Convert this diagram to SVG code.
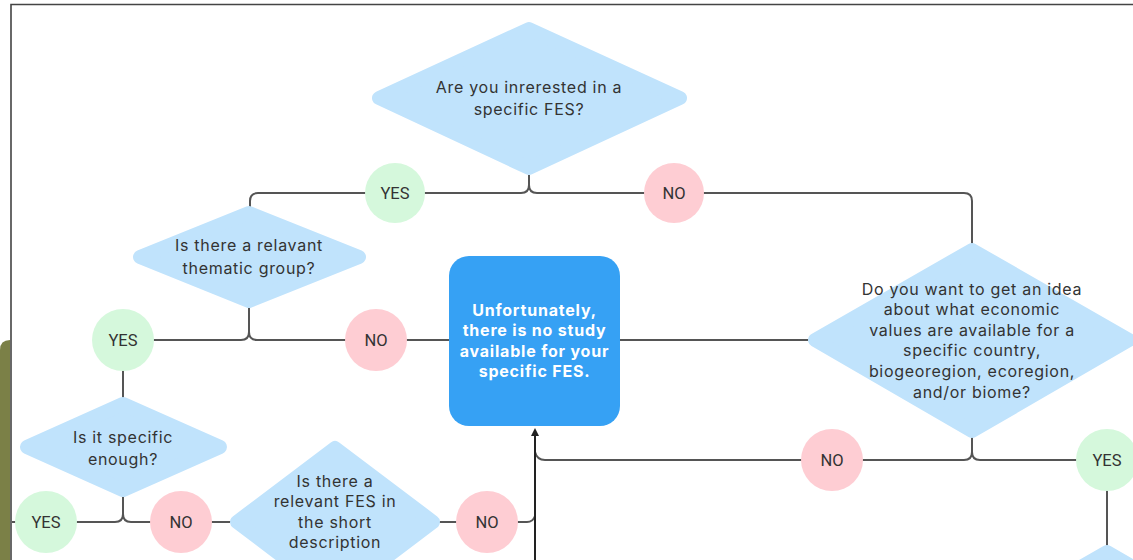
<svg xmlns="http://www.w3.org/2000/svg" width="1133" height="560" viewBox="0 0 1133 560">
<style>
.frame{fill:none;stroke:#444;stroke-width:1.6}
.conn{fill:none;stroke:#555;stroke-width:2;stroke-linejoin:round}
.dark{fill:none;stroke:#222;stroke-width:2}
.dia{fill:#c0e3fc;stroke:#c0e3fc;stroke-width:14;stroke-linejoin:round}
.dtxt{font-family:Inter,"DejaVu Sans",sans-serif;font-size:16px;letter-spacing:0.7px;fill:#333;text-anchor:middle}
.yes{fill:#d5f8dc}
.no{fill:#fecdd3}
.ctxt{font-family:Roboto,"Liberation Sans",sans-serif;font-size:16.5px;fill:#333;text-anchor:middle}
.box{fill:#36a1f4}
.btxt{font-family:Inter,"DejaVu Sans",sans-serif;font-size:16px;letter-spacing:0.8px;font-weight:bold;fill:#fff;text-anchor:middle}
</style>
<defs>
<marker id="arr" viewBox="0 0 10 10" refX="5" refY="5" markerWidth="4" markerHeight="4" orient="auto-start-reverse">
<path d="M0,0 L10,5 L0,10 z" fill="#222"/>
</marker>
</defs>
<rect width="1133" height="560" fill="#fff"/>
<path d="M0,350 Q0,340 10,340 L10,560 L0,560 Z" fill="#7b8047"/>
<path class="frame" d="M11,560 L11,4.5 L1133,4.5"/>

<g id="connectors">
<path class="conn" d="M529,175 L529,185 Q529,193 521,193 L258,193 Q250,193 250,201 L250,210"/>
<path class="conn" d="M529,185 Q529,193 537,193 L964,193 Q972,193 972,201 L972,246"/>
<path class="conn" d="M249,305 L249,332 Q249,340 241,340 L123,340"/>
<path class="conn" d="M249,332 Q249,340 257,340 L449,340"/>
<path class="conn" d="M620,340 L812,340"/>
<path class="conn" d="M972,436 L972,452 Q972,460 964,460 L545,460 Q537,460 535,452"/>
<path class="conn" d="M972,452 Q972,460 980,460 L1107,460 L1107,548"/>
<path class="conn" d="M123,340 L123,402"/>
<path class="conn" d="M123,495 L123,514 Q123,522 115,522 L12,522"/>
<path class="conn" d="M123,514 Q123,522 131,522 L234,522"/>
<path class="conn" d="M436,522 L527,522 Q533,522 535,516"/>
<path class="dark" d="M535,560 L535,432" marker-end="url(#arr)"/>
</g>

<g id="n-fes">
<polygon class="dia" points="529,29 680,98 529,168 379,98"/>
<text class="dtxt" x="529" y="93">Are you inrerested in a</text>
<text class="dtxt" x="529" y="115">specific FES?</text>
</g>

<g id="yes1"><circle class="yes" cx="395" cy="193" r="30"/><text class="ctxt" x="395" y="199">YES</text></g>
<g id="no1"><circle class="no" cx="674" cy="193" r="30"/><text class="ctxt" x="674" y="199">NO</text></g>

<g id="n-thematic">
<polygon class="dia" points="249,213 359,257 249,301 140,257"/>
<text class="dtxt" x="249" y="251">Is there a relavant</text>
<text class="dtxt" x="249" y="274">thematic group?</text>
</g>

<g id="yes2"><circle class="yes" cx="123" cy="340" r="31"/><text class="ctxt" x="123" y="346">YES</text></g>
<g id="no2"><circle class="no" cx="376" cy="340" r="31"/><text class="ctxt" x="376" y="346">NO</text></g>

<g id="n-nostudy">
<rect class="box" x="449" y="256" width="171" height="170" rx="20"/>
<text class="btxt" x="534.5" y="316">Unfortunately,</text>
<text class="btxt" x="534.5" y="336">there is no study</text>
<text class="btxt" x="534.5" y="357">available for your</text>
<text class="btxt" x="534.5" y="377">specific FES.</text>
</g>

<g id="n-region">
<polygon class="dia" points="972,250 1129,340 972,431 815,340"/>
<text class="dtxt" x="972" y="295">Do you want to get an idea</text>
<text class="dtxt" x="972" y="315">about what economic</text>
<text class="dtxt" x="972" y="336">values are available for a</text>
<text class="dtxt" x="972" y="356">specific country,</text>
<text class="dtxt" x="972" y="377">biogeoregion, ecoregion,</text>
<text class="dtxt" x="972" y="398">and/or biome?</text>
</g>

<g id="no3"><circle class="no" cx="832" cy="460" r="31"/><text class="ctxt" x="832" y="466">NO</text></g>
<g id="yes3"><circle class="yes" cx="1107" cy="460" r="31"/><text class="ctxt" x="1107" y="466">YES</text></g>

<g id="n-next">
<polygon class="dia" points="1107,552 1260,640 1107,728 954,640"/>
</g>

<g id="n-specific">
<polygon class="dia" points="123,404 220,447 123,490 27,447"/>
<text class="dtxt" x="123" y="443">Is it specific</text>
<text class="dtxt" x="123" y="465">enough?</text>
</g>

<g id="yes4"><circle class="yes" cx="46" cy="522" r="31"/><text class="ctxt" x="46" y="528">YES</text></g>
<g id="no4"><circle class="no" cx="181" cy="522" r="31"/><text class="ctxt" x="181" y="528">NO</text></g>

<g id="n-short">
<polygon class="dia" points="335,448 433,522 335,596 237,522"/>
<text class="dtxt" x="335" y="487">Is there a</text>
<text class="dtxt" x="335" y="507">relevant FES in</text>
<text class="dtxt" x="335" y="528">the short</text>
<text class="dtxt" x="335" y="548">description</text>
</g>

<g id="no5"><circle class="no" cx="487" cy="522" r="31"/><text class="ctxt" x="487" y="528">NO</text></g>
</svg>
